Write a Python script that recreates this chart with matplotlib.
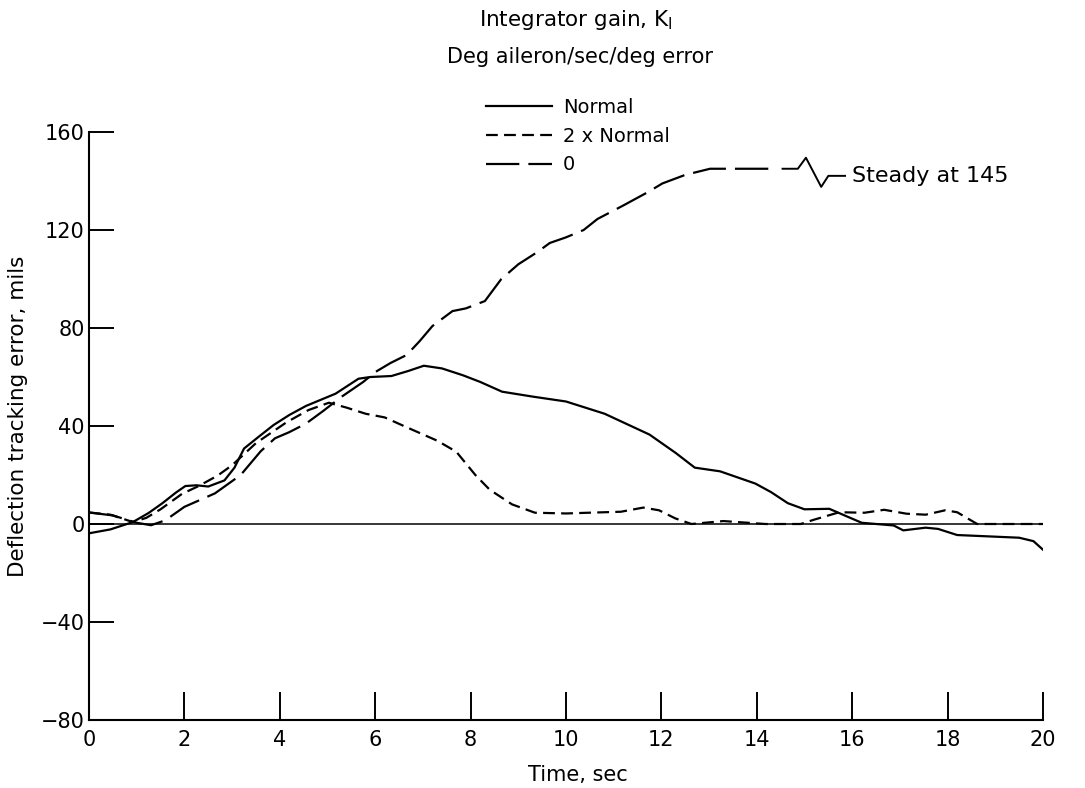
"""Deflection tracking error vs time for three integrator gains."""
import matplotlib
matplotlib.use("Agg")
import matplotlib.pyplot as plt

# --- values ---
t_normal = [0, 0.45, 0.92, 1.25, 1.54, 1.82, 2.02, 2.25, 2.5, 2.84, 3.05, 3.25,
            3.55, 3.87, 4.2, 4.55, 5.17, 5.65, 5.9, 6.34, 6.7, 7.02, 7.4, 7.84,
            8.2, 8.66, 9.3, 10.0, 10.81, 11.75, 12.3, 12.7, 13.23, 13.97, 14.3,
            14.65, 15.0, 15.52, 15.9, 16.2, 16.87, 17.07, 17.54, 17.8, 18.2,
            19.5, 19.8, 20]
err_normal = [-3.8, -2.2, 0.8, 4.5, 8.5, 12.8, 15.5, 15.8, 15.3, 17.8, 23, 30.8,
              35.5, 40.4, 44.5, 48.2, 53.2, 59.3, 60, 60.4, 62.5, 64.6, 63.5, 60.7,
              58, 54, 52, 50, 45, 36.5, 29, 23, 21.5, 16.5, 13,
              8.5, 6, 6.2, 3, 0.5, -0.6, -2.6, -1.5, -2, -4.5,
              -5.6, -7, -10.5]

t_2x = [0, 0.45, 0.92, 1.2, 1.5, 1.95, 2.3, 2.7, 3.0, 3.5, 4.14, 4.6, 5.03,
        5.4, 5.8, 6.2, 6.6, 7.3, 7.7, 8.1, 8.4, 8.87, 9.35, 10.0, 10.47, 11.15,
        11.62, 11.95, 12.29, 12.63, 13.3, 14.18, 14.92, 15.19, 15.73, 16.26,
        16.67, 17.14, 17.54, 17.95, 18.2, 18.62, 20]
err_2x = [4.7, 3.8, 0.8, 2.5, 6, 12.3, 15.5, 19.8, 24, 33, 41.5, 46.5, 49.5,
          47.5, 45, 43.5, 40, 34, 29.5, 20, 14, 8, 4.6, 4.3, 4.6, 5,
          6.7, 5.6, 2.3, 0, 1.2, 0, 0, 1.7, 4.8, 4.6,
          5.8, 4.2, 3.8, 5.6, 4.8, 0, 0]

t_zero = [0, 0.5, 1.0, 1.3, 1.6, 2.0, 2.64, 3.18, 3.6, 3.9, 4.2, 4.55, 4.9,
          5.3, 5.75, 6.0, 6.32, 6.66, 6.93, 7.2, 7.62, 7.9, 8.3, 8.64, 9.0,
          9.4, 9.66, 10.0, 10.37, 10.66, 11.2, 11.73, 12.02, 12.5, 13.02,
          13.4, 14.28]
err_zero = [4.7, 3.5, 0.5, -0.5, 1.5, 7, 12.5, 20, 29.7, 35, 37.5, 41, 46,
            52, 58, 62, 65.7, 69, 74.6, 80.8, 86.9, 88, 91, 99.9, 106,
            111, 114.7, 117, 120, 124.5, 130, 135.6, 139, 142.5, 145,
            145, 145]

STEADY = 145
series_labels = ["Normal", "2 x Normal", "0"]

x_ticks = [0, 2, 4, 6, 8, 10, 12, 14, 16, 18, 20]
y_ticks = [-80, -40, 0, 40, 80, 120, 160]
y_tick_labels = ["\u221280", "\u221240", "0", "40", "80", "120", "160"]

plt.rcParams["font.family"] = "DejaVu Sans"
plt.rcParams["mathtext.fontset"] = "dejavusans"
plt.rcParams["lines.scale_dashes"] = False

W, H = 1085, 788
fig = plt.figure(figsize=(W / 100, H / 100), dpi=100, facecolor="white")
ax = fig.add_axes([89 / W, 1 - 720 / H, (1043 - 89) / W, (720 - 132) / H])

ax.axhline(0, color="black", lw=1.1, zorder=1)
ln_n, = ax.plot(t_normal, err_normal, color="black", lw=1.6,
                label=series_labels[0], zorder=3)
ln_2, = ax.plot(t_2x, err_2x, color="black", lw=1.6, dashes=(8.5, 4.5),
                label=series_labels[1], zorder=3)
ln_0, = ax.plot(t_zero, err_zero, color="black", lw=1.6, dashes=(24, 6.5),
                label=series_labels[2], zorder=3)

# break symbol and note for the zero-gain curve
brk_t = [14.54, 14.86, 15.03, 15.35, 15.5, 15.85]
brk_dy = [0, 0, 4.5, -7.4, -2.9, -2.9]
ax.plot(brk_t, [STEADY + d for d in brk_dy], color="black", lw=1.4,
        clip_on=False)
ax.text(16.0, STEADY - 2.9, f"Steady at {STEADY}", ha="left", va="center",
        fontsize=16, clip_on=False)

ax.set_xlim(0, 20)
ax.set_ylim(-80, 160)
ax.set_xticks(x_ticks)
ax.set_xticklabels([str(v) for v in x_ticks])
ax.set_yticks(y_ticks)
ax.set_yticklabels(y_tick_labels)
ax.tick_params(axis="x", direction="in", length=20, width=1.4, pad=7,
               labelsize=15)
ax.tick_params(axis="y", direction="in", length=18, width=1.4, pad=3,
               labelsize=15)
for side in ("top", "right"):
    ax.spines[side].set_visible(False)
for side in ("left", "bottom"):
    ax.spines[side].set_linewidth(1.5)

ax.legend(handles=[ln_n, ln_2, ln_0], loc="upper left",
          bbox_to_anchor=(486 / W, 1 - 98 / H), bbox_transform=fig.transFigure,
          frameon=False, fontsize=14, handlelength=3.4, handletextpad=0.55,
          labelspacing=0.5, borderpad=0, borderaxespad=0)

fig.text(576 / W, 1 - 20 / H, r"Integrator gain, K$_{\mathrm{I}}$",
         ha="center", va="center", fontsize=15.5)
fig.text(580 / W, 1 - 57 / H, "Deg aileron/sec/deg error",
         ha="center", va="center", fontsize=15)
fig.text(578 / W, 1 - 775 / H, "Time, sec", ha="center", va="center",
         fontsize=15)
fig.text(18 / W, 1 - 416 / H, "Deflection tracking error, mils",
         rotation=90, ha="center", va="center", fontsize=15.5)

fig.savefig("out.png", dpi=100, facecolor="white")
